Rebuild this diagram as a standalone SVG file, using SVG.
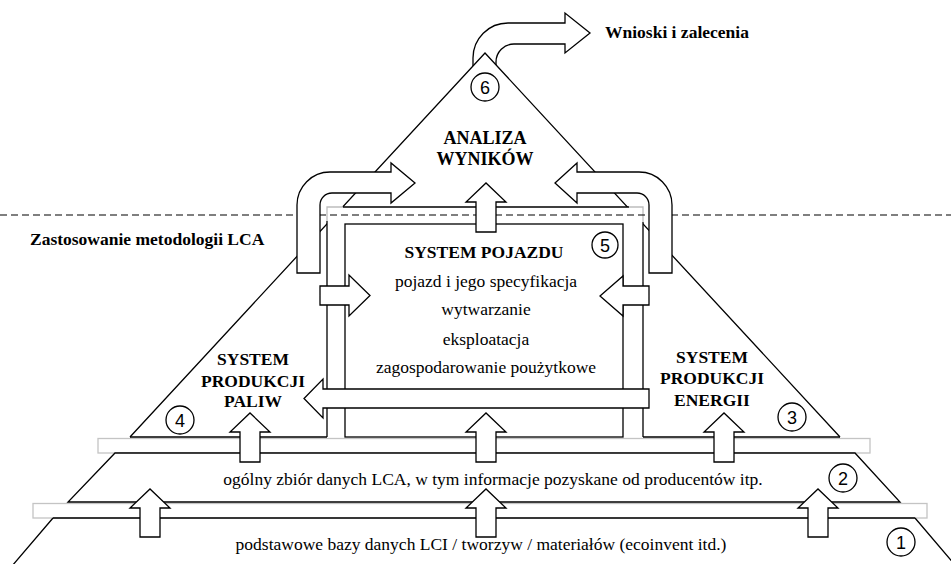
<svg xmlns="http://www.w3.org/2000/svg" width="951" height="564" viewBox="0 0 951 564">
  <style>
    .ln { fill: none; stroke: #000; stroke-width: 1.3; }
    .gr { fill: none; stroke: #bdbdbd; stroke-width: 1.3; }
    .sh { fill: #fff; stroke: #000; stroke-width: 1.3; stroke-linejoin: miter; }
    .band { fill: #fff; stroke: #c4c4c4; stroke-width: 1.3; }
    .dash { fill: none; stroke: #000; stroke-width: 1.2; stroke-dasharray: 7 4; }
    .b { font-family: "Liberation Serif", "Times New Roman", serif; font-weight: bold; font-size: 17.5px; fill: #000; }
    .r { font-family: "Liberation Serif", "Times New Roman", serif; font-size: 17.5px; fill: #000; }
    .num { font-family: "Liberation Sans", Arial, sans-serif; font-size: 18px; fill: #000; text-anchor: middle; }
    .c { text-anchor: middle; }
  </style>

  <!-- output arrow leaving the apex -->
  <g id="arrow-out">
    <path class="sh" d="M473,78 V58 A35,35 0 0 1 508,23 H565 V13 L590,33 L565,53 V44 H514 A18,18 0 0 0 496,62 V78 Z"/>
  </g>

  <!-- bands between layers -->
  <g id="bands">
    <rect class="band" x="98" y="438.5" width="772" height="14.5"/>
    <rect class="band" x="33" y="503.5" width="894" height="14.5"/>
  </g>

  <!-- layer 1: base databases -->
  <g id="layer-1">
    <path class="ln" d="M53,518 H915 M53,518 L12,566 M915,518 L956,566"/>
    <text class="r c" x="481" y="550">podstawowe bazy danych LCI / tworzyw / materiałów (ecoinvent itd.)</text>
  </g>

  <!-- layer 2: general LCA data -->
  <g id="layer-2">
    <path class="sh" d="M115,453 H855 L900,502 H68 Z"/>
    <text class="r c" x="493" y="485">ogólny zbiór danych LCA, w tym informacje pozyskane od producentów itp.</text>
  </g>

  <!-- main triangle -->
  <g id="triangle">
    <path class="sh" d="M130,437 L485,53 L840,437" />
    <path class="ln" d="M130,437 H327 M643,437 H840"/>
  </g>

  <!-- vehicle system frame -->
  <g id="vehicle-frame">
    <rect x="327" y="207" width="316" height="230" fill="#fff"/>
    <rect class="sh" x="345" y="224" width="278" height="213"/>
    <path class="ln" d="M327,437 V221 M343,207 H629 M643,222 V437"/>
    <path class="gr" d="M327,221 V207 H343 M629,207 H643 V222"/>
  </g>

  <!-- LCA methodology boundary -->
  <path id="boundary" class="dash" d="M0,215 H951"/>

  <g id="connectors">
    <!-- bent arrows into the analysis -->
    <path class="sh" d="M297,273 V205 A33,33 0 0 1 330,172 H391 V163 L415,183 L391,203 V193 H332 A12,12 0 0 0 320,205 V273 Z"/>
    <path class="sh" d="M672,273 V205 A33,33 0 0 0 639,172 H577 V163 L555,183 L577,203 V193 H637 A12,12 0 0 1 649,205 V273 Z"/>
    <!-- side arrows into the vehicle system -->
    <path class="sh" d="M320,286 H349 V275 L370,295.5 L349,316 V305 H320 Z"/>
    <path class="sh" d="M649,286 H623 V276 L600,296 L623,316 V305 H649 Z"/>
    <!-- return arrow to fuel production -->
    <path class="sh" d="M649,389 H323 V379 L304,398.5 L323,418 V408 H649 Z"/>
    <!-- upward arrows -->
    <path class="sh" d="M476,232 V202 H466 L486,183 L506,202 H496 V232 Z"/>
    <path class="sh" d="M240,462 V432 H230 L250,413 L270,432 H260 V462 Z"/>
    <path class="sh" d="M476,462 V432 H466 L486,413 L506,432 H496 V462 Z"/>
    <path class="sh" d="M714,462 V432 H704 L724,413 L744,432 H734 V462 Z"/>
    <path class="sh" d="M140,537 V508 H130 L150,489 L170,508 H160 V537 Z"/>
    <path class="sh" d="M476,537 V508 H466 L486,489 L506,508 H496 V537 Z"/>
    <path class="sh" d="M808,537 V508 H798 L818,489 L838,508 H828 V537 Z"/>
  </g>

  <g id="analysis">
    <text class="b c" x="485" y="144" style="font-size:18px">ANALIZA</text>
    <text class="b c" x="485" y="165" style="font-size:18px">WYNIKÓW</text>
    <circle class="sh" cx="485" cy="87" r="14"/>
    <text class="num" x="485" y="93.5">6</text>
  </g>

  <g id="conclusions">
    <text class="b" x="605" y="38">Wnioski i zalecenia</text>
  </g>

  <g id="methodology-label">
    <text class="b" x="30" y="245">Zastosowanie metodologii LCA</text>
  </g>

  <g id="vehicle-system">
    <text class="b c" x="484" y="258">SYSTEM POJAZDU</text>
    <text class="r c" x="486" y="287">pojazd i jego specyfikacja</text>
    <text class="r c" x="486" y="315">wytwarzanie</text>
    <text class="r c" x="486" y="345">eksploatacja</text>
    <text class="r c" x="486" y="373">zagospodarowanie poużytkowe</text>
    <circle class="sh" cx="605" cy="245" r="13"/>
    <text class="num" x="605" y="251.5">5</text>
  </g>

  <g id="fuel-system">
    <text class="b c" x="253" y="365">SYSTEM</text>
    <text class="b c" x="253" y="387">PRODUKCJI</text>
    <text class="b c" x="253" y="407">PALIW</text>
    <circle class="sh" cx="180" cy="420" r="14"/>
    <text class="num" x="180" y="426.5">4</text>
  </g>

  <g id="energy-system">
    <text class="b c" x="712" y="363">SYSTEM</text>
    <text class="b c" x="712" y="384">PRODUKCJI</text>
    <text class="b c" x="712" y="406">ENERGII</text>
    <circle class="sh" cx="792" cy="417" r="14"/>
    <text class="num" x="792" y="423.5">3</text>
  </g>

  <g id="layer-2-marker">
    <circle class="sh" cx="843" cy="478" r="14"/>
    <text class="num" x="843" y="484.5">2</text>
  </g>

  <g id="layer-1-marker">
    <circle class="sh" cx="901" cy="542" r="14"/>
    <text class="num" x="901" y="548.5">1</text>
  </g>
</svg>
